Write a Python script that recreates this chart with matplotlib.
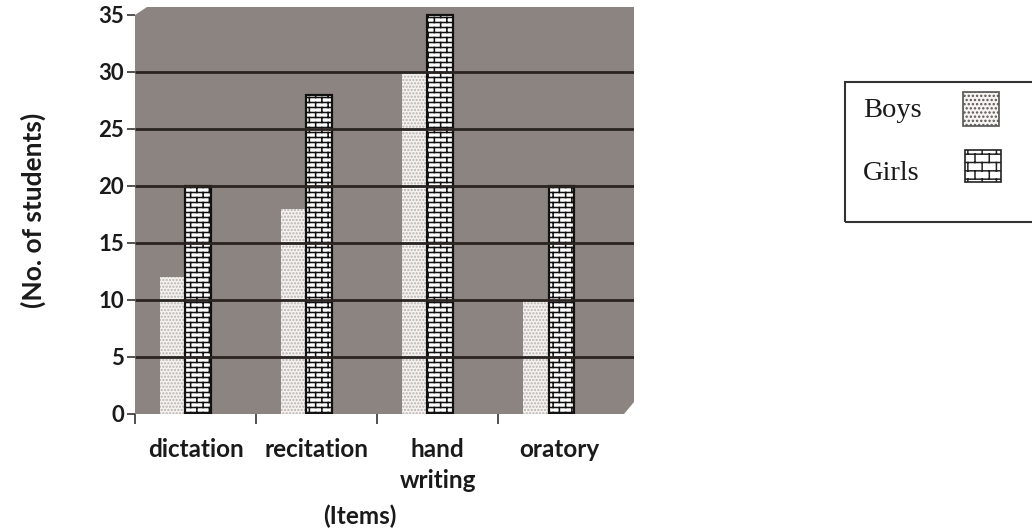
import warnings

import matplotlib
matplotlib.use("Agg")
import matplotlib.pyplot as plt
import numpy as np
from matplotlib import hatch as mhatch
from matplotlib.patches import Polygon, Rectangle
from matplotlib.path import Path

warnings.simplefilter("ignore")

items = ["dictation", "recitation", "hand\nwriting", "oratory"]
series = ["Boys", "Girls"]
boys = [12, 18, 30, 10]
girls = [20, 28, 35, 20]
y_ticks = [0, 5, 10, 15, 20, 25, 30, 35]
grid_levels = [5, 10, 15, 20, 25, 30]


class BrickHatch(mhatch.HatchPatternBase):
    """Brick wall hatch: 'b' small bricks (bars), 'B' bigger ones (legend)."""

    def __init__(self, hatch, density):
        if "b" in hatch:
            self.rows, self.cols = 20, 8
        elif "B" in hatch:
            self.rows, self.cols = 12, 7
        else:
            self.rows, self.cols = 0, 0
        n_segments = self.rows + self.rows * self.cols + self.cols
        self.num_vertices = 2 * n_segments if self.rows else 0

    def set_vertices_and_codes(self, vertices, codes):
        dy = 1.0 / self.rows
        dx = 1.0 / self.cols
        segs = []
        for r in range(self.rows):
            y = (r + 0.5) * dy
            segs.append(((0.0, y), (1.0, y)))
        for r in range(self.rows):
            y0 = (r + 0.5) * dy
            shift = 0.5 if r % 2 else 0.0
            for c in range(self.cols):
                x = (c + 0.25 + shift) * dx
                if r == self.rows - 1:
                    segs.append(((x, y0), (x, 1.0)))
                else:
                    segs.append(((x, y0), (x, y0 + dy)))
        # wrap-around part of the top row
        for c in range(self.cols):
            x = (c + 0.25 + 0.5 * ((self.rows - 1) % 2)) * dx
            segs.append(((x, 0.0), (x, 0.5 * dy)))
        segs = np.array(segs)
        vertices[0::2] = segs[:, 0]
        vertices[1::2] = segs[:, 1]
        codes[0::2] = Path.MOVETO
        codes[1::2] = Path.LINETO


mhatch._hatch_types.append(BrickHatch)

plt.rcParams["font.family"] = ["Lato", "DejaVu Sans"]
plt.rcParams["font.weight"] = "bold"
plt.rcParams["hatch.linewidth"] = 1.1

W, H = 1032, 531
fig = plt.figure(figsize=(W / 100, H / 100), dpi=100)
ax = fig.add_axes([135 / W, 1 - 414 / H, 499 / W, 407 / H])

# chamfered grey plot background
ax.patch.set_visible(False)
ax.add_patch(Polygon(
    [(0, 0), (1 - 10 / 499, 0), (1, 12 / 407), (1, 1), (12 / 499, 1), (0, 1 - 8 / 407)],
    closed=True, transform=ax.transAxes, facecolor="#8c8480", edgecolor="none", zorder=0,
))

x = np.arange(len(items))
ax.bar(x - 0.19, boys, width=0.21, color="#f6f3f1", edgecolor="#b8b2ae",
       linewidth=0, hatch=".....", zorder=2)
ax.bar(x + 0.02, girls, width=0.21, color="white", edgecolor="#111111",
       linewidth=1.6, hatch="b", zorder=2)

ax.hlines(grid_levels, -0.5, 3.62, colors="#2a2421", linewidth=2, zorder=3)

ax.set_xlim(-0.5, 3.62)
ax.set_ylim(0, 35.7)
ax.set_yticks(y_ticks)
ax.tick_params(axis="y", length=6, width=1.2, color="#333333", pad=2,
               labelsize=16, labelcolor="#1a1a1a")

ax.set_xticks(np.arange(-0.5, 3, 1))
ax.set_xticklabels([])
ax.tick_params(axis="x", which="major", length=7, width=1.2, color="#333333")
ax.set_xticks(x, items, minor=True)
ax.tick_params(axis="x", which="minor", length=0, pad=17, labelsize=17.5,
               labelcolor="#1a1a1a")
for t in ax.get_xticklabels(minor=True):
    t.set_linespacing(1.45)

for s in ax.spines.values():
    s.set_visible(False)

fig.text(33 / W, 1 - 210 / H, "(No. of students)", rotation=90, ha="center",
         va="center", fontsize=19, color="#1a1a1a")
fig.text(360 / W, 1 - 516 / H, "(Items)", ha="center", va="center",
         fontsize=17.5, color="#1a1a1a")

# legend box (runs past the right edge like the original)
fig.add_artist(Rectangle((845 / W, 1 - 222 / H), 0.3, 140 / H,
                         transform=fig.transFigure, fill=False,
                         edgecolor="#333333", linewidth=1.5))
fig.text(863 / W, 1 - 117 / H, series[0], family="Liberation Serif",
         weight="normal", fontsize=20.5, color="#1a1a1a", va="baseline")
fig.text(863 / W, 1 - 180 / H, series[1], family="Liberation Serif",
         weight="normal", fontsize=20.5, color="#1a1a1a", va="baseline")
fig.add_artist(Rectangle((963 / W, 1 - 126 / H), 36 / W, 34 / H,
                         transform=fig.transFigure, facecolor="#f6f3f1",
                         edgecolor="#555555", linewidth=1.2, hatch="...."))
fig.add_artist(Rectangle((965 / W, 1 - 182 / H), 36 / W, 32 / H,
                         transform=fig.transFigure, facecolor="white",
                         edgecolor="#222222", linewidth=1.2, hatch="B"))

fig.savefig("out.png", dpi=100)
plt.close(fig)
